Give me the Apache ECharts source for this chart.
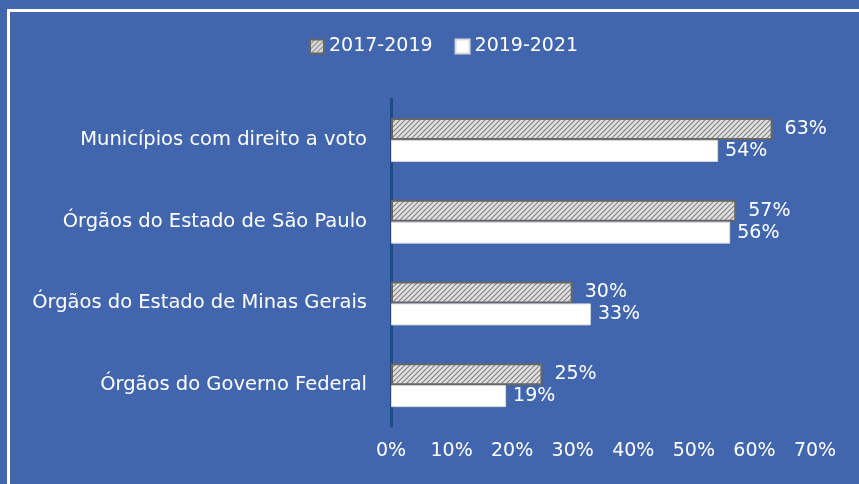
<!DOCTYPE html>
<html><head><meta charset="utf-8">
<script src="https://cdn.jsdelivr.net/npm/echarts@6/dist/echarts.min.js"></script>
<style>html,body{margin:0;padding:0;background:#4166ad;}#c{width:859px;height:484px;}
#b{position:absolute;left:7px;top:9px;width:900px;height:600px;border-left:3px solid #fff;border-top:3px solid #fff;pointer-events:none;}</style>
</head><body><div id="c"></div><div id="b"></div>
<script>
const categories = ['Municípios com direito a voto','Órgãos do Estado de São Paulo','Órgãos do Estado de Minas Gerais','Órgãos do Governo Federal'];
const series1Name = '2017-2019';
const series2Name = '2019-2021';
const values1 = [63, 57, 30, 25];
const values2 = [54, 56, 33, 19];
const xTicks = [0,10,20,30,40,50,60,70];

function hatch(){
  const c = document.createElement('canvas'); c.width = 5; c.height = 5;
  const g = c.getContext('2d');
  g.fillStyle = '#e0e0e0'; g.fillRect(0,0,5,5);
  g.strokeStyle = '#858585'; g.lineWidth = 1.2;
  g.beginPath();
  g.moveTo(0,5); g.lineTo(5,0);
  g.moveTo(-2.5,2.5); g.lineTo(2.5,-2.5);
  g.moveTo(2.5,7.5); g.lineTo(7.5,2.5);
  g.stroke();
  return c;
}
const font = 'DejaVu Sans';
const chart = echarts.init(document.getElementById('c'));
chart.setOption({
  backgroundColor: '#4166ad',
  textStyle:{fontFamily:font},
  legend:{top:32,left:304,itemWidth:14,itemHeight:14,itemGap:22,icon:'rect',
    textStyle:{color:'#fff',fontSize:19,fontFamily:font},
    data:[series1Name,series2Name]},
  grid:{left:391,right:44,top:99,bottom:58},
  xAxis:{type:'value',min:0,max:xTicks[xTicks.length-1],interval:10,
    axisLabel:{color:'#fff',fontSize:19,fontFamily:font,margin:16,formatter:v=>v+'%'},
    splitLine:{show:false},axisLine:{show:false},axisTick:{show:false}},
  yAxis:{type:'category',inverse:true,data:categories,
    axisLine:{show:true,lineStyle:{color:'#1b4d82',width:3}},
    axisTick:{show:false},
    axisLabel:{color:'#fff',fontSize:19.5,fontFamily:font,margin:24}},
  series:[
    {name:series1Name,type:'bar',data:values1,barWidth:22,barGap:'0%',
      itemStyle:{color:{image:hatch(),repeat:'repeat'},borderColor:'#666666',borderWidth:2},
      label:{show:true,position:'right',distance:12,color:'#fff',fontSize:19,fontFamily:font,formatter:p=>p.value+'%'}},
    {name:series2Name,type:'bar',data:values2,barWidth:22,
      itemStyle:{color:'#ffffff',borderColor:'#d9d9d9',borderWidth:1},
      label:{show:true,position:'right',distance:7,color:'#fff',fontSize:19,fontFamily:font,formatter:p=>p.value+'%'}}
  ]
});
</script></body></html>
